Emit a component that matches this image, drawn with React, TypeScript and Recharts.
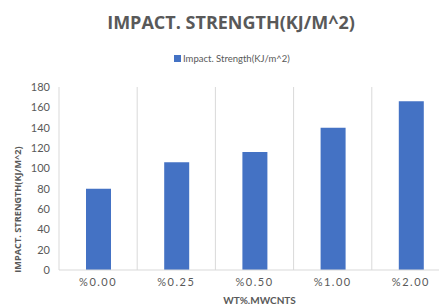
import { BarChart, Bar, XAxis, YAxis, CartesianGrid, Legend } from "recharts";

const categories = ["%0.00", "%0.25", "%0.50", "%1.00", "%2.00"];
const impactValues = [80, 106, 116, 140, 166];
const yTicks = [0, 20, 40, 60, 80, 100, 120, 140, 160, 180];

const seriesName = "Impact. Strength(KJ/m^2)";
const data = categories.map((c, i) => ({ name: c, impact: impactValues[i] }));

const GRAY = "#595959";
const GRID = "#d9d9d9";
const BLUE = "#4472c4";
const NARROW = "Lato, 'Open Sans', sans-serif";

const renderLegend = () => (
  <div
    style={{
      display: "flex",
      justifyContent: "center",
      alignItems: "center",
      fontFamily: NARROW,
      fontSize: 10,
      color: GRAY,
      paddingLeft: 9,
    }}
  >
    <span
      style={{ width: 7, height: 7, background: BLUE, marginRight: 2, display: "inline-block" }}
    />
    <span style={{ display: "inline-block", transform: "scaleX(0.95)", transformOrigin: "left" }}>
      {seriesName}
    </span>
  </div>
);

const renderYLabel = ({ viewBox }: any) => {
  const x = viewBox.x + 21;
  const y = viewBox.y + viewBox.height / 2 + 31;
  return (
    <text
      x={x}
      y={y}
      transform={`rotate(-90, ${x}, ${y})`}
      textAnchor="middle"
      fontFamily="'Open Sans', sans-serif"
      fontWeight={700}
      fontSize={9.2}
      fill={GRAY}
    >
      IMPACT. STRENGTH(KJ/M^2)
    </text>
  );
};

const gridX = ({ offset }: any) =>
  [0, 1, 2, 3, 4, 5].map((i) => offset.left + (i * offset.width) / categories.length);

const App = () => (
  <div
    style={{
      position: "absolute",
      left: 0,
      top: 0,
      width: 439,
      height: 307,
      overflow: "hidden",
      background: "#fff",
    }}
  >
    <div
      style={{
        position: "absolute",
        top: 10,
        left: 0,
        width: 462,
        textAlign: "center",
        fontFamily: "'Open Sans', sans-serif",
        fontWeight: 700,
        fontSize: 18,
        letterSpacing: 0,
        color: GRAY,
      }}
    >
      IMPACT. STRENGTH(KJ/M^2)
    </div>
    <BarChart
      width={460}
      height={307}
      data={data}
      margin={{ top: 87, right: 10, left: 0, bottom: 0 }}
    >
      <CartesianGrid
        vertical
        horizontal={false}
        stroke={GRID}
        verticalCoordinatesGenerator={gridX}
      />
      <XAxis
        dataKey="name"
        height={37}
        tickLine={false}
        axisLine={{ stroke: GRID }}
        tick={{ fill: GRAY, fontSize: 11, fontFamily: NARROW, letterSpacing: 1.5 }}
        label={{
          value: "WT%.MWCNTS",
          position: "insideBottom",
          offset: 3,
          dx: 5,
          fill: GRAY,
          fontSize: 10,
          fontWeight: 700,
          fontFamily: NARROW,
        }}
      />
      <YAxis
        width={59}
        domain={[0, 180]}
        ticks={yTicks}
        interval={0}
        tickLine={false}
        axisLine={false}
        tickSize={7}
        tick={{ fill: GRAY, fontSize: 11, fontFamily: NARROW }}
        label={renderYLabel}
      />
      <Legend
        layout="vertical"
        align="center"
        verticalAlign="middle"
        wrapperStyle={{ top: 52, left: 0, width: 460 }}
        content={renderLegend}
      />
      <Bar dataKey="impact" name={seriesName} fill={BLUE} barSize={25} isAnimationActive={false} />
    </BarChart>
  </div>
);

export default App;
